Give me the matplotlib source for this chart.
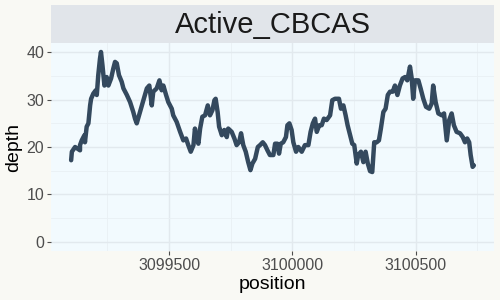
import matplotlib
matplotlib.use("Agg")
import matplotlib.pyplot as plt
from matplotlib.ticker import MultipleLocator

plt.rcParams['font.family'] = ['Liberation Sans', 'DejaVu Sans']

# coverage trace
position = [3099103, 3099106, 3099119, 3099139, 3099139, 3099146, 3099157, 3099159,
            3099166, 3099173, 3099180, 3099184, 3099193, 3099203, 3099207, 3099213,
            3099220, 3099224, 3099230, 3099238, 3099247, 3099254, 3099265, 3099274,
            3099281, 3099288, 3099297, 3099308, 3099315, 3099329, 3099342, 3099355,
            3099362, 3099369, 3099382, 3099396, 3099410, 3099420, 3099430, 3099436,
            3099450, 3099461, 3099470, 3099477, 3099488, 3099497, 3099511, 3099517,
            3099531, 3099545, 3099558, 3099569, 3099578, 3099588, 3099599, 3099605,
            3099612, 3099619, 3099626, 3099635, 3099646, 3099657, 3099666, 3099676,
            3099684, 3099689, 3099697, 3099703, 3099714, 3099724, 3099734, 3099740,
            3099754, 3099765, 3099774, 3099784, 3099792, 3099801, 3099811, 3099821,
            3099830, 3099838, 3099849, 3099860, 3099869, 3099880, 3099889, 3099899,
            3099909, 3099923, 3099930, 3099939, 3099946, 3099953, 3099963, 3099974,
            3099980, 3099988, 3099997, 3100004, 3100015, 3100024, 3100038, 3100051,
            3100065, 3100074, 3100083, 3100092, 3100099, 3100109, 3100119, 3100128,
            3100139, 3100153, 3100162, 3100173, 3100189, 3100197, 3100207, 3100216,
            3100224, 3100234, 3100243, 3100251, 3100261, 3100267, 3100278, 3100288,
            3100297, 3100306, 3100315, 3100324, 3100332, 3100342, 3100351, 3100359,
            3100369, 3100378, 3100387, 3100396, 3100407, 3100416, 3100426, 3100436,
            3100447, 3100457, 3100466, 3100477, 3100484, 3100490, 3100497, 3100511,
            3100520, 3100531, 3100542, 3100555, 3100565, 3100571, 3100581, 3100592,
            3100606, 3100615, 3100626, 3100636, 3100646, 3100655, 3100666, 3100680,
            3100691, 3100700, 3100709, 3100717, 3100723, 3100731, 3100736]
depth = [17.2, 19.0, 20.0, 19.3, 20.4, 21.4, 22.5, 21.0,
         24.3, 25.0, 28.8, 30.2, 31.3, 32.0, 31.0, 35.2,
         38.7, 40.1, 37.3, 33.0, 34.8, 33.0, 34.5, 36.6,
         38.0, 37.7, 35.2, 33.8, 32.4, 31.0, 29.5, 27.4,
         26.0, 25.0, 27.4, 29.9, 32.4, 33.0, 28.8, 31.7,
         32.4, 34.1, 32.0, 33.0, 31.0, 29.5, 28.1, 26.7,
         25.3, 23.2, 21.4, 21.8, 20.4, 19.0, 20.4, 23.9,
         21.8, 20.7, 23.9, 26.4, 26.7, 28.8, 26.7, 27.8,
         29.9, 30.2, 27.4, 24.3, 22.5, 23.6, 22.1, 23.9,
         23.2, 21.8, 20.4, 21.0, 22.9, 20.4, 19.0, 16.8,
         15.1, 16.5, 17.5, 20.0, 20.4, 21.0, 20.4, 19.3,
         18.3, 18.3, 20.7, 20.7, 18.6, 20.7, 21.0, 22.1,
         24.6, 25.0, 23.6, 21.0, 19.0, 20.0, 19.0, 20.4,
         20.4, 23.2, 25.0, 26.0, 23.2, 24.6, 24.6, 26.0,
         25.7, 26.7, 29.9, 30.2, 30.2, 28.1, 28.8, 26.7,
         24.6, 22.5, 20.7, 20.4, 16.5, 18.3, 19.0, 16.8,
         19.0, 16.5, 14.9, 14.7, 21.0, 21.0, 21.4, 23.9,
         27.4, 28.1, 31.0, 31.7, 31.7, 33.0, 31.0, 33.0,
         34.5, 34.8, 34.1, 37.0, 34.5, 30.2, 34.1, 34.1,
         32.4, 30.2, 28.5, 28.1, 29.2, 33.0, 29.5, 27.1,
         26.7, 27.1, 21.4, 25.7, 27.1, 24.6, 23.2, 22.9,
         22.1, 21.0, 21.8, 21.0, 18.3, 15.8, 16.1]
facet_title = "Active_CBCAS"
x_ticks = [3099500, 3100000, 3100500]
y_ticks = [0, 10, 20, 30, 40]

fig = plt.figure(figsize=(5, 3), dpi=100, facecolor='#F9F9F4')
ax = fig.add_axes([0.102, 0.1633, 0.886, 0.6934], facecolor='#F2FAFE')

ax.plot(position, depth, color='#34495E', linewidth=3.2, solid_joinstyle='round',
        solid_capstyle='round', zorder=3)

span = max(position) - min(position)
ax.set_xlim(min(position) - 0.05 * span, max(position) + 0.05 * span)
ax.set_ylim(-2, 42)
ax.set_xticks(x_ticks)
ax.set_xticklabels([str(t) for t in x_ticks])
ax.set_yticks(y_ticks)
ax.xaxis.set_minor_locator(MultipleLocator(250))
ax.yaxis.set_minor_locator(MultipleLocator(5))

ax.grid(which='major', color='#E2E9EE', linewidth=1.0, zorder=0)
ax.grid(which='minor', color='#E9F0F4', linewidth=0.6, zorder=0)
ax.set_axisbelow(True)
for s in ax.spines.values():
    s.set_visible(False)

ax.tick_params(which='major', length=3, width=0.8, color='#4D4D4D',
               labelsize=11.5, labelcolor='#4D4D4D', pad=2)
ax.tick_params(which='minor', length=0)

ax.set_xlabel('position', fontsize=14, color='black', labelpad=2)
ax.set_ylabel('depth', fontsize=14, color='black', labelpad=3)

# facet strip
strip = fig.add_axes([0.102, 0.8567, 0.886, 0.1266], facecolor='#E1E5EA')
strip.set_xticks([])
strip.set_yticks([])
for s in strip.spines.values():
    s.set_visible(False)
strip.text(0.5, 0.48, facet_title, ha='center', va='center', fontsize=21,
           color='#1A1A1A', transform=strip.transAxes)

fig.savefig('out.png', dpi=100, facecolor=fig.get_facecolor())
